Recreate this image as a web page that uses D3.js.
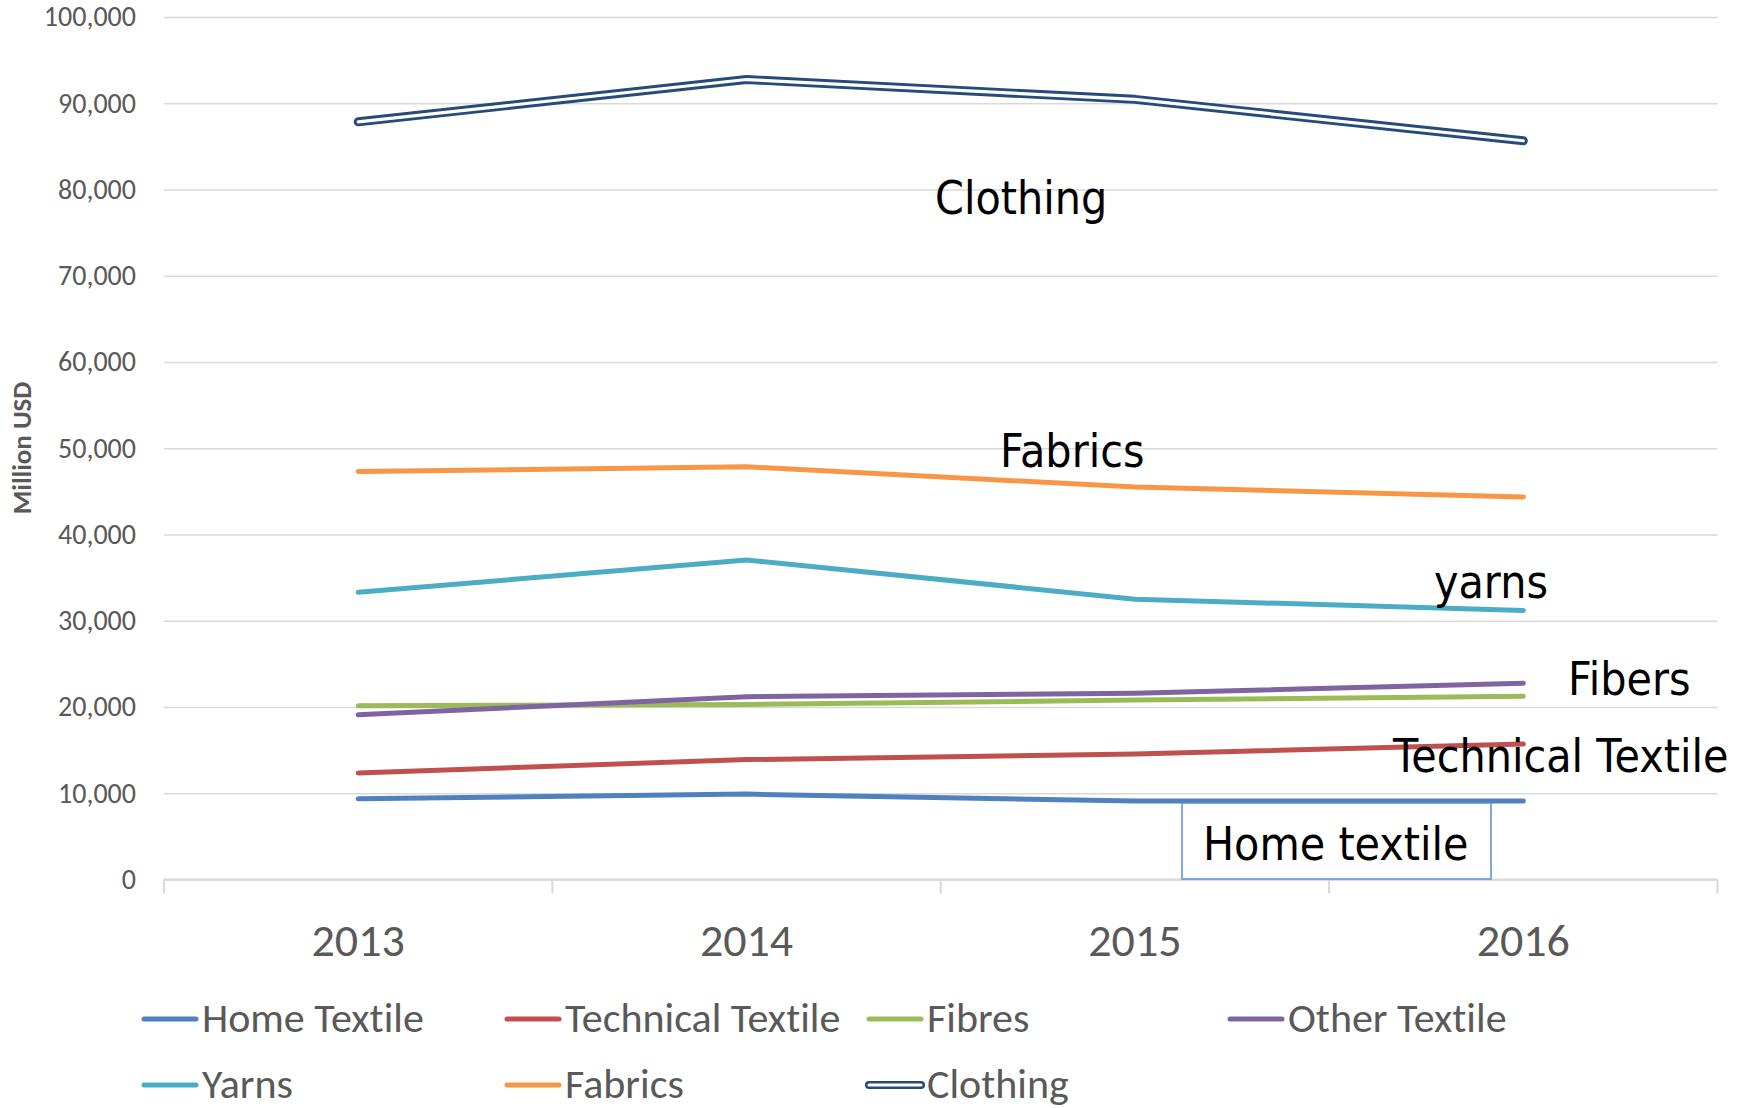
<!DOCTYPE html>
<html>
<head>
<meta charset="utf-8">
<script src="https://cdn.jsdelivr.net/npm/d3@7"></script>
<style>
  body { margin: 0; background: #fff; }
  svg { display: block; }
  text { font-variant-ligatures: none; }
</style>
</head>
<body>
<div id="chart"></div>
<script>
// data (Million USD)
var years = ["2013", "2014", "2015", "2016"];
var homeTextile      = [9350, 9900, 9100, 9100];
var technicalTextile = [12350, 13900, 14550, 15700];
var fibres           = [20150, 20300, 20800, 21250];
var otherTextile     = [19100, 21200, 21600, 22750];
var yarns            = [33300, 37050, 32500, 31200];
var fabrics          = [47300, 47850, 45500, 44350];
var clothing         = [87850, 92750, 90450, 85650];
var seriesNames  = ["Home Textile", "Technical Textile", "Fibres", "Other Textile", "Yarns", "Fabrics", "Clothing"];
var seriesValues = [homeTextile, technicalTextile, fibres, otherTextile, yarns, fabrics, clothing];
var seriesColors = ["#4F81BD", "#C0504D", "#9BBB59", "#8064A2", "#4BACC6", "#F79646", "#264B7A"];
var yTicks = [0, 10000, 20000, 30000, 40000, 50000, 60000, 70000, 80000, 90000, 100000];
// free text labels in the plot
var notes = [
  {text: "Clothing", x: 935, y: 214},
  {text: "Fabrics", x: 1000, y: 467},
  {text: "yarns", x: 1434, y: 598},
  {text: "Fibers", x: 1568, y: 695},
  {text: "Technical Textile", x: 1393, y: 772},
  {text: "Home textile", x: 1203, y: 860, box: true}
];

var width = 1759, height = 1108;
var plotL = 164, plotR = 1717.5, plotT = 17, plotB = 879.5;

var svg = d3.select("#chart").append("svg")
    .attr("width", width)
    .attr("height", height);

var x = d3.scaleBand().domain(years).range([plotL, plotR]).padding(0);
var y = d3.scaleLinear().domain([0, 100000]).range([plotB, plotT]);
var cx = function(d) { return x(d) + x.bandwidth() / 2; };

// gridlines + y labels
var yAxis = svg.append("g")
    .attr("transform", "translate(" + plotL + ",0)")
    .call(d3.axisLeft(y).tickValues(yTicks).tickSize(-(plotR - plotL)).tickPadding(28).tickFormat(d3.format(",")));
yAxis.select(".domain").remove();
yAxis.selectAll(".tick line").attr("stroke", "#D9D9D9").attr("stroke-width", 1.5);
yAxis.selectAll(".tick text")
    .attr("fill", "#595959")
    .style("font-family", "Carlito, Roboto, sans-serif")
    .style("font-size", "28px");

// x axis line and tick marks at category edges
svg.append("line")
    .attr("x1", plotL).attr("x2", plotR)
    .attr("y1", plotB).attr("y2", plotB)
    .attr("stroke", "#D9D9D9").attr("stroke-width", 2);
var edges = years.map(function(d) { return x(d); }).concat([plotR]);
svg.selectAll(".xtick").data(edges).enter().append("line")
    .attr("class", "xtick")
    .attr("x1", function(d) { return d; }).attr("x2", function(d) { return d; })
    .attr("y1", plotB).attr("y2", plotB + 14)
    .attr("stroke", "#D9D9D9").attr("stroke-width", 2);
svg.selectAll(".xlab").data(years).enter().append("text")
    .attr("class", "xlab")
    .attr("x", cx).attr("y", 956)
    .attr("text-anchor", "middle")
    .attr("fill", "#595959")
    .style("font-family", "Carlito, Roboto, sans-serif")
    .style("font-size", "46px")
    .text(function(d) { return d; });

// y axis title
svg.append("text")
    .attr("transform", "translate(31,448) rotate(-90)")
    .attr("text-anchor", "middle")
    .attr("fill", "#595959")
    .style("font-family", "Carlito, Roboto, sans-serif")
    .style("font-weight", "bold")
    .style("font-size", "27px")
    .text("Million USD");

// lines
var line = d3.line()
    .x(function(d, i) { return cx(years[i]); })
    .y(function(d) { return y(d); });

seriesValues.forEach(function(vals, k) {
  var name = seriesNames[k];
  if (name == "Clothing") {
    // double line: dark outer, white core
    svg.append("path").attr("d", line(vals)).attr("fill", "none")
      .attr("stroke", seriesColors[k]).attr("stroke-width", 9).attr("stroke-linecap", "round").attr("stroke-linejoin", "round");
    svg.append("path").attr("d", line(vals)).attr("fill", "none")
      .attr("stroke", "#fff").attr("stroke-width", 3.2).attr("stroke-linecap", "round").attr("stroke-linejoin", "round");
  } else {
    svg.append("path").attr("d", line(vals)).attr("fill", "none")
      .attr("stroke", seriesColors[k]).attr("stroke-width", 5).attr("stroke-linecap", "round").attr("stroke-linejoin", "round");
  }
});

// annotation labels
notes.forEach(function(n) {
  if (n.box) {
    svg.append("rect")
      .attr("x", 1182).attr("y", 803)
      .attr("width", 309).attr("height", 76)
      .attr("fill", "#fff")
      .attr("stroke", "#5B8FD6").attr("stroke-width", 1.5);
  }
  svg.append("text")
    .attr("transform", "translate(" + n.x + "," + n.y + ") scale(0.9,1)")
    .attr("fill", "#000")
    .style("font-family", "Tahoma, 'DejaVu Sans', sans-serif")
    .style("font-size", "46px")
    .text(n.text);
});

// legend
var legCols = [142, 505, 867, 1228], legRows = [1019, 1085];
var leg = svg.selectAll(".leg").data(seriesNames).enter().append("g")
    .attr("class", "leg")
    .attr("transform", function(d, i) { return "translate(" + legCols[i % 4] + "," + legRows[Math.floor(i / 4)] + ")"; });
leg.append("line")
    .attr("x1", 2).attr("x2", 54)
    .attr("stroke", function(d, i) { return seriesColors[i]; })
    .attr("stroke-width", function(d) { return d == "Clothing" ? 8 : 5; })
    .attr("stroke-linecap", "round");
leg.filter(function(d) { return d == "Clothing"; }).append("line")
    .attr("x1", 2).attr("x2", 54)
    .attr("stroke", "#fff").attr("stroke-width", 3).attr("stroke-linecap", "round");
leg.append("text")
    .attr("x", 60).attr("y", 13)
    .attr("fill", "#595959")
    .style("font-family", "Carlito, Roboto, sans-serif")
    .style("font-size", "42px")
    .text(function(d) { return d; });
</script>
</body>
</html>
